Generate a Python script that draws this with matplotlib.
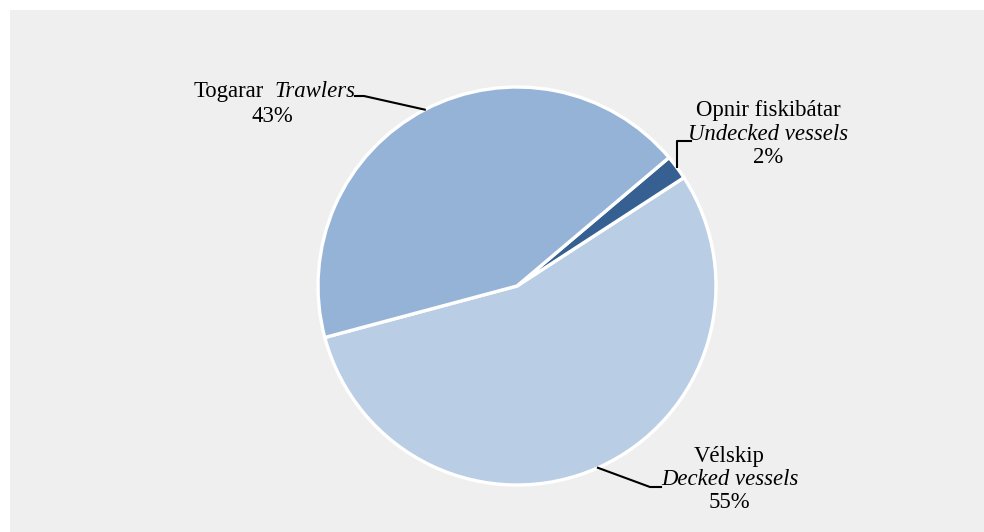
import numpy as np
import matplotlib.pyplot as plt
from matplotlib.patches import Rectangle

# data
names_is = ['Vélskip', 'Opnir fiskibátar', 'Togarar']
names_en = ['Decked vessels', 'Undecked vessels', 'Trawlers']
shares = [55, 2, 43]
colors = ['#b9cde5', '#376092', '#95b3d7']

W, H = 984, 532
fig = plt.figure(figsize=(W / 100, H / 100), dpi=100, facecolor='white')
fig.add_artist(Rectangle((10 / W, 0), 1 - 10 / W, 1 - 10 / H, transform=fig.transFigure,
                         facecolor='#efefef', edgecolor='none', zorder=-10))

ax = fig.add_axes([0, 0, 1, 1])
ax.patch.set_visible(False)

cx, cy, R = 517, H - 286, 199
wedges, _ = ax.pie(shares, colors=colors, startangle=195, center=(cx, cy), radius=R,
                   wedgeprops=dict(edgecolor='white', linewidth=2.4))
ax.set_xlim(0, W)
ax.set_ylim(0, H)
ax.set_aspect('equal')
ax.axis('off')

plt.rcParams['font.family'] = 'Liberation Serif'
fs = 16.4


def edge_pt(w):
    a = np.deg2rad((w.theta1 + w.theta2) / 2)
    return cx + R * np.cos(a), cy + R * np.sin(a)


def px(x, y):
    return x, H - y


# leader lines
x0, y0 = edge_pt(wedges[2])
xs, ys = zip((x0, y0), px(364, 96), px(355, 96))
ax.plot(xs, ys, color='black', lw=1.5)
x0, y0 = edge_pt(wedges[1])
xs, ys = zip((x0, y0), (x0, H - 141), (691, H - 141))
ax.plot(xs, ys, color='black', lw=1.5)
x0, y0 = edge_pt(wedges[0])
xs, ys = zip((x0, y0), px(650, 487), px(661, 487))
ax.plot(xs, ys, color='black', lw=1.5)

# labels
ax.text(*px(264, 97), names_is[2], ha='right', va='baseline', fontsize=fs)
ax.text(*px(275, 97), names_en[2], ha='left', va='baseline', fontsize=fs, style='italic')
ax.text(*px(272, 122), f'{shares[2]}%', ha='center', va='baseline', fontsize=fs)

ax.text(*px(768, 116), names_is[1], ha='center', va='baseline', fontsize=fs)
ax.text(*px(768, 140), names_en[1], ha='center', va='baseline', fontsize=fs, style='italic')
ax.text(*px(768, 163), f'{shares[1]}%', ha='center', va='baseline', fontsize=fs)

ax.text(*px(729, 462), names_is[0], ha='center', va='baseline', fontsize=fs)
ax.text(*px(730, 485), names_en[0], ha='center', va='baseline', fontsize=fs, style='italic')
ax.text(*px(729, 508), f'{shares[0]}%', ha='center', va='baseline', fontsize=fs)

fig.savefig('out.png', dpi=100)
